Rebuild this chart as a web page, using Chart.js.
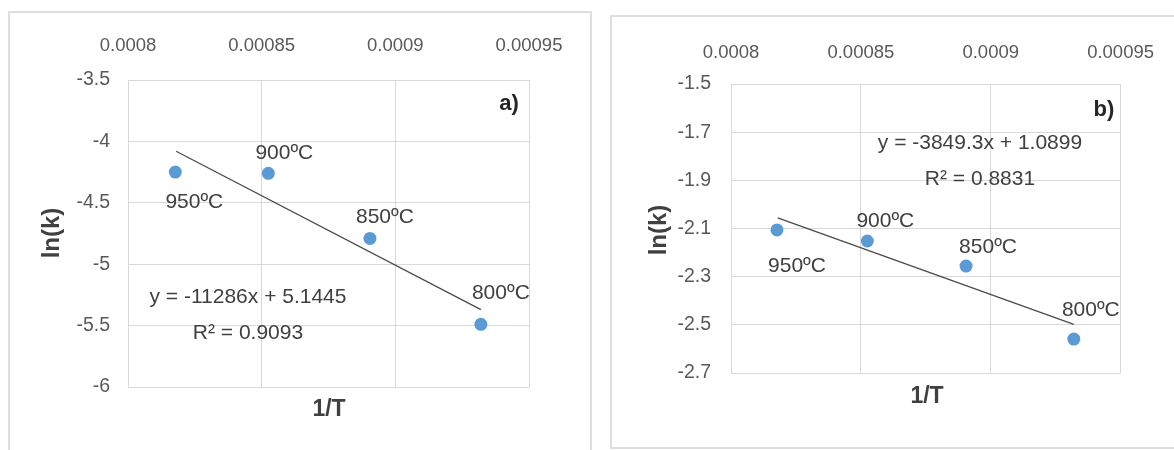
<!DOCTYPE html>
<html>
<head>
<meta charset="utf-8">
<script src="https://cdn.jsdelivr.net/npm/chart.js@4.4.1/dist/chart.umd.min.js"></script>
<style>
  html, body { margin: 0; padding: 0; background: #ffffff; }
  body { width: 1174px; height: 450px; position: relative; overflow: hidden; }
  .panel { position: absolute; border: 2px solid #dedede; box-sizing: border-box; }
  canvas { position: absolute; top: 0; }
</style>
</head>
<body>
<div class="panel" style="left:8px; top:11px; width:584px; height:460px;"></div>
<div class="panel" style="left:610px; top:15px; width:600px; height:434px;"></div>
<canvas id="chartA" width="595" height="450" style="left:0px;"></canvas>
<canvas id="chartB" width="574" height="450" style="left:600px;"></canvas>
<script>
// ---------- data ----------
const categories = ['950ºC', '900ºC', '850ºC', '800ºC'];
const invT = [0.0008177, 0.0008525, 0.0008905, 0.000932];
const lnkA = [-4.25, -4.26, -4.79, -5.49];
const lnkB = [-2.106, -2.152, -2.256, -2.559];
const trendX = [0.000818, 0.000932];
const trendYA = [-4.08, -5.37];
const trendYB = [-2.056, -2.498];
const xTicks = [0.0008, 0.00085, 0.0009, 0.00095];
const xTickLabels = ['0.0008', '0.00085', '0.0009', '0.00095'];
const yTicksA = [-3.5, -4, -4.5, -5, -5.5, -6];
const yTickLabelsA = ['-3.5', '-4', '-4.5', '-5', '-5.5', '-6'];
const yTicksB = [-1.5, -1.7, -1.9, -2.1, -2.3, -2.5, -2.7];
const yTickLabelsB = ['-1.5', '-1.7', '-1.9', '-2.1', '-2.3', '-2.5', '-2.7'];
const equationA = 'y = -11286x + 5.1445';
const r2A = 'R² = 0.9093';
const equationB = 'y = -3849.3x + 1.0899';
const r2B = 'R² = 0.8831';
const xTitle = '1/T';
const yTitle = 'ln(k)';

// ---------- styles ----------
const FONT = "'Liberation Sans', Arial, sans-serif";
const GRID = '#d9d9d9';
const TICK = '#595959';
const TEXT = '#404040';
const MARK = '#5b9bd5';

function textPlugin(cfg) {
  return {
    id: 'texts_' + cfg.id,
    afterDatasetsDraw(chart) {
      const ctx = chart.ctx;
      const xs = chart.scales.x, ys = chart.scales.y;
      ctx.save();
      ctx.textAlign = 'center';
      ctx.textBaseline = 'middle';
      // data labels
      ctx.fillStyle = TEXT;
      ctx.font = '21px ' + FONT;
      cfg.values.forEach((v, i) => {
        const px = xs.getPixelForValue(invT[i]) + cfg.labelOffsets[i][0];
        const py = ys.getPixelForValue(v) + cfg.labelOffsets[i][1];
        ctx.fillText(categories[i], px, py);
      });
      // equation
      ctx.fillText(cfg.eq, cfg.eqPos[0], cfg.eqPos[1]);
      ctx.fillText(cfg.r2, cfg.r2Pos[0], cfg.r2Pos[1]);
      // panel label
      ctx.fillStyle = '#262626';
      ctx.font = 'bold 22px ' + FONT;
      ctx.fillText(cfg.panel, cfg.panelPos[0], cfg.panelPos[1]);
      // axis titles
      ctx.fillStyle = TEXT;
      ctx.font = 'bold 23px ' + FONT;
      ctx.fillText(xTitle, cfg.xTitlePos[0], cfg.xTitlePos[1]);
      ctx.save();
      ctx.translate(cfg.yTitlePos[0], cfg.yTitlePos[1]);
      ctx.rotate(-Math.PI / 2);
      ctx.font = 'bold 24px ' + FONT;
      ctx.fillText(yTitle, 0, 0);
      ctx.restore();
      ctx.restore();
    }
  };
}

function makeChart(id, cfg) {
  return new Chart(document.getElementById(id), {
    type: 'scatter',
    data: {
      datasets: [
        {
          type: 'line',
          data: trendX.map((x, i) => ({ x: x, y: cfg.trend[i] })),
          borderColor: '#4a4a4a',
          borderWidth: 1.3,
          pointRadius: 0,
          fill: false
        },
        {
          data: invT.map((x, i) => ({ x: x, y: cfg.values[i] })),
          backgroundColor: MARK,
          borderWidth: 0,
          pointRadius: 6.5
        }
      ]
    },
    options: {
      responsive: false,
      animation: false,
      devicePixelRatio: 1,
      layout: { padding: cfg.padding },
      plugins: { legend: { display: false }, tooltip: { enabled: false } },
      scales: {
        x: {
          type: 'linear',
          position: 'top',
          min: 0.0008,
          max: 0.00095,
          afterBuildTicks: s => { s.ticks = xTicks.map(v => ({ value: v })); },
          afterFit: s => { s.height = cfg.xHeight; },
          ticks: {
            callback: (v, i) => xTickLabels[i],
            padding: cfg.xPad,
            color: TICK,
            font: { family: FONT, size: 18.5 },
            maxRotation: 0
          },
          grid: { color: GRID, drawTicks: false, lineWidth: 1 },
          border: { color: GRID }
        },
        y: {
          type: 'linear',
          min: cfg.yMin,
          max: cfg.yMax,
          afterBuildTicks: s => { s.ticks = cfg.yTicks.map(v => ({ value: v })); },
          afterFit: s => { s.width = cfg.yWidth; },
          ticks: {
            callback: (v, i) => cfg.yTickLabels[i],
            padding: cfg.yPad,
            color: TICK,
            font: { family: FONT, size: 19.5 }
          },
          grid: { color: GRID, drawTicks: false, lineWidth: 1 },
          border: { color: GRID }
        }
      }
    },
    plugins: [textPlugin(cfg)]
  });
}

makeChart('chartA', {
  id: 'a',
  values: lnkA,
  trend: trendYA,
  yMin: -6, yMax: -3.5,
  yTicks: yTicksA, yTickLabels: yTickLabelsA,
  padding: { left: 0, top: 0, right: 66, bottom: 63 },
  xHeight: 80, yWidth: 128, xPad: 23, yPad: 18,
  labelOffsets: [[19, 30], [16, -20], [15, -21], [20, -31]],
  eq: equationA, eqPos: [248, 297],
  r2: r2A, r2Pos: [248, 333],
  panel: 'a)', panelPos: [509, 104],
  xTitlePos: [329, 410],
  yTitlePos: [52, 233]
});

makeChart('chartB', {
  id: 'b',
  values: lnkB,
  trend: trendYB,
  yMin: -2.7, yMax: -1.5,
  yTicks: yTicksB, yTickLabels: yTickLabelsB,
  padding: { left: 0, top: 0, right: 48, bottom: 77 },
  xHeight: 84, yWidth: 131, xPad: 20, yPad: 20,
  labelOffsets: [[20, 36], [18, -20], [22, -19], [17, -29]],
  eq: equationB, eqPos: [380, 143],
  r2: r2B, r2Pos: [380, 179],
  panel: 'b)', panelPos: [504, 110],
  xTitlePos: [327, 397],
  yTitlePos: [59, 230]
});
</script>
</body>
</html>
